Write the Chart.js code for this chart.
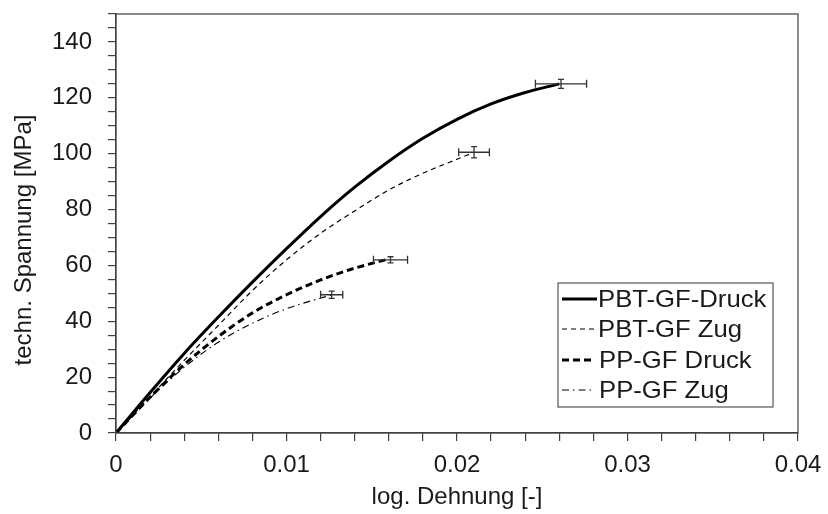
<!DOCTYPE html>
<html>
<head>
<meta charset="utf-8">
<script src="https://cdn.jsdelivr.net/npm/chart.js@4.4.1/dist/chart.umd.min.js"></script>
<style>
  html, body { margin: 0; padding: 0; background: #fff; }
  #wrap { width: 828px; height: 514px; }
</style>
</head>
<body>
<div id="wrap"><canvas id="chart" width="828" height="514"></canvas></div>
<script>
// Werte
const seriesNames = ["PBT-GF-Druck", "PBT-GF Zug", "PP-GF Druck", "PP-GF Zug"];

const pbtDruckX = [0, 0.002, 0.004, 0.006, 0.008, 0.010, 0.012, 0.014, 0.016, 0.018, 0.020, 0.022, 0.024, 0.026];
const pbtDruckY = [0, 14.5, 28.5, 41.5, 54, 66, 77.5, 88, 97.3, 105.5, 112.3, 117.8, 121.9, 125];

const pbtZugX = [0, 0.002, 0.004, 0.006, 0.008, 0.010, 0.012, 0.014, 0.016, 0.018, 0.020, 0.021];
const pbtZugY = [0, 13, 26, 38.5, 51, 62, 71.5, 79.5, 87, 93, 98, 100.5];

const ppDruckX = [0, 0.002, 0.004, 0.006, 0.008, 0.010, 0.012, 0.014, 0.016];
const ppDruckY = [0, 12.8, 24.5, 34.5, 43, 49.5, 54.8, 59, 62.3];

const ppZugX = [0, 0.002, 0.004, 0.006, 0.008, 0.010, 0.012, 0.0126];
const ppZugY = [0, 12.5, 23.5, 32.5, 39.3, 44.5, 48.3, 49.3];

// Fehlerbalken am Bruchpunkt: x, y, +-x, +-y
const errX  = [0.0261, 0.0210, 0.0161, 0.01265];
const errY  = [125, 100.5, 62, 49.5];
const errDx = [0.0015, 0.0009, 0.0010, 0.00065];
const errDy = [1.6, 2.0, 1.1, 1.3];

const xTickLabels = ["0", "0.01", "0.02", "0.03", "0.04"];
const yTickLabels = ["0", "20", "40", "60", "80", "100", "120", "140"];
const yTitle = "techn. Spannung [MPa]";

const FONT = "'Liberation Sans', Arial, sans-serif";
const INK = "#1a1a1a";
const AXIS = "#404040";

function pts(xs, ys) {
  return xs.map((x, i) => ({ x: x, y: ys[i] }));
}

const lineStyles = [
  { width: 3, dash: [] },
  { width: 1.2, dash: [5, 4] },
  { width: 3, dash: [7, 4] },
  { width: 1.1, dash: [7, 4, 1.5, 4] }
];

const seriesData = [
  pts(pbtDruckX, pbtDruckY),
  pts(pbtZugX, pbtZugY),
  pts(ppDruckX, ppDruckY),
  pts(ppZugX, ppZugY)
];

const datasets = seriesNames.map((name, i) => ({
  label: name,
  data: seriesData[i],
  showLine: true,
  borderColor: "#000",
  borderWidth: lineStyles[i].width,
  borderDash: lineStyles[i].dash,
  pointRadius: 0,
  cubicInterpolationMode: "monotone",
  fill: false
}));

const errorBars = {
  id: "errorBars",
  afterDatasetsDraw(chart) {
    const ctx = chart.ctx;
    const xs = chart.scales.x;
    const ys = chart.scales.y;
    ctx.save();
    ctx.strokeStyle = "#333";
    ctx.lineWidth = 1.3;
    ctx.setLineDash([]);
    errX.forEach((x, i) => {
      const cx = xs.getPixelForValue(x);
      const cy = ys.getPixelForValue(errY[i]);
      const x1 = xs.getPixelForValue(x - errDx[i]);
      const x2 = xs.getPixelForValue(x + errDx[i]);
      const y1 = ys.getPixelForValue(errY[i] + errDy[i]);
      const y2 = ys.getPixelForValue(errY[i] - errDy[i]);
      ctx.beginPath();
      ctx.moveTo(x1, cy); ctx.lineTo(x2, cy);
      ctx.moveTo(x1, cy - 4); ctx.lineTo(x1, cy + 4);
      ctx.moveTo(x2, cy - 4); ctx.lineTo(x2, cy + 4);
      ctx.moveTo(cx, y1); ctx.lineTo(cx, y2);
      ctx.moveTo(cx - 3, y1); ctx.lineTo(cx + 3, y1);
      ctx.moveTo(cx - 3, y2); ctx.lineTo(cx + 3, y2);
      ctx.stroke();
    });
    ctx.restore();
  }
};

const frameAndLegend = {
  id: "frameAndLegend",
  afterDraw(chart) {
    const ctx = chart.ctx;
    const a = chart.chartArea;
    ctx.save();
    ctx.strokeStyle = AXIS;
    ctx.lineWidth = 1.2;
    ctx.setLineDash([]);
    ctx.strokeRect(a.left, a.top, a.right - a.left, a.bottom - a.top);

    // y-Achsentitel
    ctx.save();
    ctx.translate(24, 240);
    ctx.rotate(-Math.PI / 2);
    ctx.font = "24px " + FONT;
    ctx.fillStyle = INK;
    ctx.textAlign = "center";
    ctx.textBaseline = "middle";
    ctx.fillText(yTitle, 0, 0);
    ctx.restore();

    // Legende
    const bx = 558, by = 283, bw = 215, bh = 124;
    ctx.fillStyle = "#fff";
    ctx.fillRect(bx, by, bw, bh);
    ctx.strokeStyle = "#555";
    ctx.lineWidth = 1.2;
    ctx.strokeRect(bx, by, bw, bh);
    const rows = [299, 329, 360, 390];
    ctx.font = "24px " + FONT;
    ctx.textBaseline = "middle";
    ctx.fillStyle = INK;
    seriesNames.forEach((name, i) => {
      ctx.beginPath();
      ctx.strokeStyle = "#000";
      ctx.lineWidth = lineStyles[i].width;
      ctx.setLineDash(lineStyles[i].dash);
      ctx.moveTo(562, rows[i]);
      ctx.lineTo(i >= 2 ? 592 : 597, rows[i]);
      ctx.stroke();
      ctx.setLineDash([]);
      ctx.save();
      ctx.translate(i >= 2 ? 599 : 598, rows[i] + 1);
      ctx.scale(1.07, 1);
      ctx.fillText(name, 0, 0);
      ctx.restore();
    });
    ctx.restore();
  }
};

new Chart(document.getElementById("chart"), {
  type: "scatter",
  data: { datasets: datasets },
  options: {
    responsive: false,
    animation: false,
    layout: { padding: { left: 0, right: 30, top: 14, bottom: 0 } },
    plugins: { legend: { display: false }, tooltip: { enabled: false } },
    scales: {
      x: {
        type: "linear",
        min: 0,
        max: 0.04,
        afterFit(scale) {
          scale.height = 81;
          scale.paddingLeft = 0;
          scale.paddingRight = 0;
        },
        border: { color: AXIS, width: 1.2 },
        grid: { drawOnChartArea: false, drawTicks: true, tickLength: 8, color: AXIS, lineWidth: 1.2 },
        ticks: {
          stepSize: 0.002,
          autoSkip: false,
          maxRotation: 0,
          padding: 10,
          color: INK,
          font: { family: FONT, size: 24 },
          callback(v) {
            const k = Math.round(v * 500);
            return k % 5 === 0 ? xTickLabels[k / 5] : "";
          }
        },
        title: {
          display: true,
          text: "log. Dehnung [-]",
          color: INK,
          font: { family: FONT, size: 24 },
          padding: { top: 0, bottom: 2 }
        }
      },
      y: {
        type: "linear",
        min: 0,
        max: 150,
        afterFit(scale) {
          scale.width = 116;
          scale.paddingTop = 0;
          scale.paddingBottom = 0;
        },
        border: { color: AXIS, width: 1.2 },
        grid: { drawOnChartArea: false, drawTicks: true, tickLength: 8, color: AXIS, lineWidth: 1.2 },
        ticks: {
          stepSize: 5,
          autoSkip: false,
          padding: 16,
          color: INK,
          font: { family: FONT, size: 24 },
          callback(v) {
            const k = Math.round(v);
            return k % 20 === 0 ? yTickLabels[k / 20] : "";
          }
        }
      }
    }
  },
  plugins: [errorBars, frameAndLegend]
});
</script>
</body>
</html>
